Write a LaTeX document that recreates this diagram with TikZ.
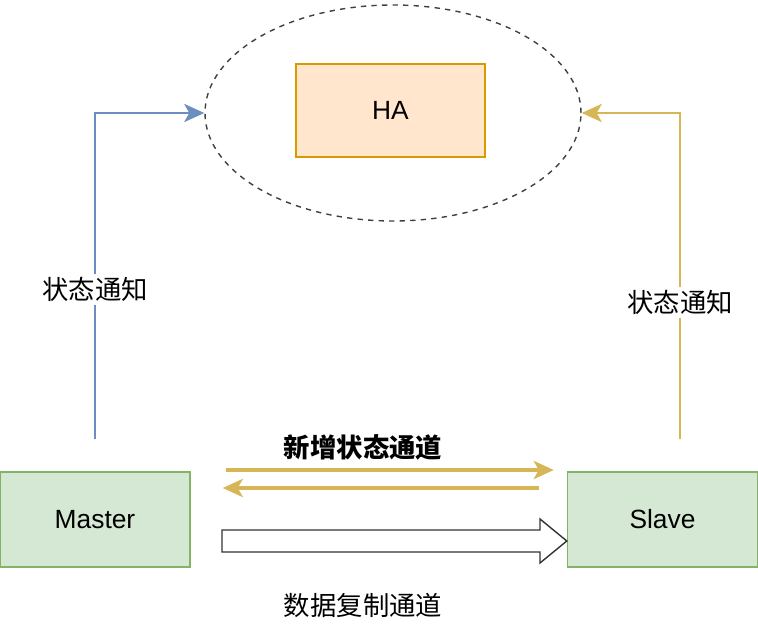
\documentclass[tikz,border=0pt]{standalone}
\usepackage{fontspec}
\setmainfont{Liberation Sans}
\newfontfamily\cjk{Noto Sans CJK SC}
\usetikzlibrary{arrows.meta,shapes.geometric}
\definecolor{bluel}{HTML}{6C8EBF}
\definecolor{yell}{HTML}{D6B656}
\definecolor{hafill}{HTML}{FFE6CC}
\definecolor{hadraw}{HTML}{D79B00}
\definecolor{gfill}{HTML}{D5E8D4}
\definecolor{gdraw}{HTML}{82B366}

\begin{document}
\begin{tikzpicture}[every node/.style={font=\fontsize{15}{18}\selectfont}, >={Stealth[length=4mm,width=3.6mm,inset=1mm]}, box/.style={draw=gdraw, fill=gfill, thick, minimum width=3.8cm, minimum height=1.9cm, inner sep=0pt}, lbl/.style={fill=white, text=black, inner sep=2pt, font=\fontsize{15}{18}\selectfont\cjk}, sync/.style={->, yell, line width=2.6pt}]
	\useasboundingbox (0,0) rectangle (15.16,12.82);
	\node[draw, dashed, ellipse, thick, black!75, minimum width=7.52cm, minimum height=4.32cm, inner sep=0pt] (pool) at (7.86,10.56) {};
	\node[draw=hadraw, fill=hafill, thick, minimum width=3.78cm, minimum height=1.86cm] (ha) at (7.81,10.61) {HA};
	\node[box] (master) at (1.9,2.43) {Master};
	\node[box] (slave) at (13.25,2.43) {Slave};
	\coordinate (mup) at ([yshift=0.64cm]master.north);
	\coordinate (sup) at ([shift={(0.35,0.64)}]slave.north);
	\draw[->, bluel, line width=1.6pt] (mup) |- (pool.west) node[lbl, pos=0.23] {状态通知};
	\draw[->, yell, line width=1.6pt] (sup) |- (pool.east) node[lbl, pos=0.21] {状态通知};
	\draw[sync] ([shift={(0.7,0.99)}]master.east) -- ([shift={(-0.26,0.99)}]slave.west);
	\draw[sync] ([shift={(-0.56,0.63)}]slave.west) -- ([shift={(0.64,0.63)}]master.east);
	\node[lbl, font=\fontsize{15}{18}\selectfont\cjk\bfseries] (newch) at (7.26,3.88) {新增状态通道};
	\draw[thick, black!80, fill=white] (4.44,2.22) -- (10.8,2.22) -- (10.8,2.44) -- (slave.west |- 0,2.0) -- (10.8,1.56) -- (10.8,1.78) -- (4.44,1.78) -- cycle;
	\node[lbl] (datach) at (7.26,0.72) {数据复制通道};
\end{tikzpicture}
\end{document}
